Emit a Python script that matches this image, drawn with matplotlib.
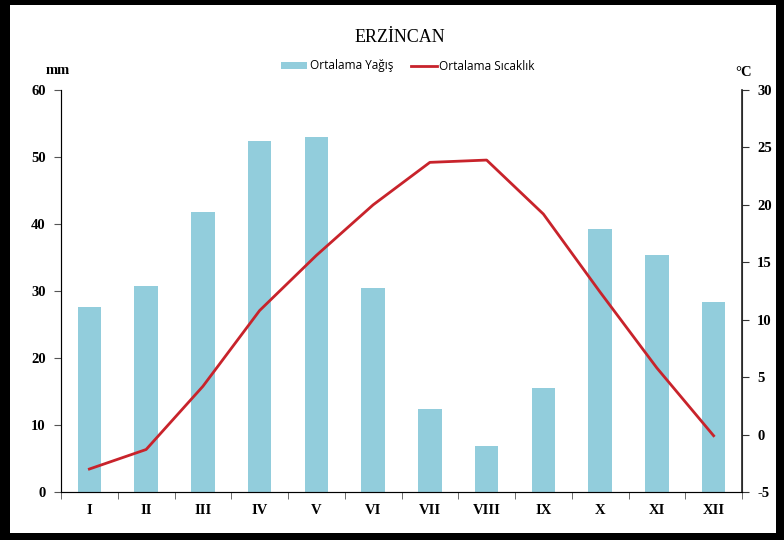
import numpy as np
import matplotlib
matplotlib.use('Agg')
from matplotlib import pyplot as plt
from matplotlib.patches import Rectangle

plt.rcParams['axes.unicode_minus'] = False

aylar = ['I','II','III','IV','V','VI','VII','VIII','IX','X','XI','XII']
yagis = [27.6, 30.7, 41.8, 52.4, 53.0, 30.4, 12.4, 6.9, 15.5, 39.3, 35.4, 28.4]   # mm
sicaklik = [-3.0, -1.3, 4.2, 10.8, 15.6, 20.0, 23.7, 23.9, 19.2, 12.4, 5.8, -0.1]  # °C

mavi = '#92CDDC'
kirmizi = '#C8232B'
serif = 'Liberation Serif'

W, H = 784, 540
fig = plt.figure(figsize=(W/100, H/100), dpi=100)
ax = fig.add_axes([61/W, 1-492/H, 681/W, 402/H])
x = np.arange(len(aylar))
b = ax.bar(x, yagis, width=0.41, color=mavi, label='Ortalama Yağış', zorder=2)
ax.set_xlim(-0.5, 11.5)
ax.set_ylim(0, 60)
ax.set_yticks(range(0, 61, 10))
ax.set_xticks(x)
ax.set_xticklabels(aylar)
ax.set_xticks(np.arange(-0.5, 12, 1), minor=True)
ax.tick_params(axis='x', which='major', length=0, pad=9)
ax.tick_params(axis='x', which='minor', length=5, direction='out', color='#555555')
ax.tick_params(axis='y', length=5, direction='out', color='#555555', pad=6)
for lab in ax.get_xticklabels() + ax.get_yticklabels():
    lab.set_fontfamily(serif)
    lab.set_fontweight('bold')
    lab.set_fontsize(10.5)
ax.spines['top'].set_visible(False)
for s in ['left', 'bottom', 'right']:
    ax.spines[s].set_color('#555555')

ax2 = ax.twinx()
l, = ax2.plot(x, sicaklik, color=kirmizi, lw=2, label='Ortalama Sıcaklık', zorder=3)
ax2.set_ylim(-5, 30)
ax2.set_yticks(range(-5, 31, 5))
ax2.tick_params(axis='y', length=5, direction='out', color='#333333', pad=6)
for lab in ax2.get_yticklabels():
    lab.set_fontfamily(serif)
    lab.set_fontweight('bold')
    lab.set_fontsize(10.5)
ax2.spines['top'].set_visible(False)
ax2.spines['right'].set_color('#222222')
ax2.spines['right'].set_linewidth(1.2)

fig.text(400/W, 1-38/H, 'ERZİNCAN', ha='center', va='center', family=serif, fontsize=13)
fig.text(58/W, 1-70/H, 'mm', ha='center', va='center', family=serif, fontweight='bold', fontsize=10.5)
fig.text(744/W, 1-73/H, '°C', ha='center', va='center', family=serif, fontweight='bold', fontsize=10.5)

fig.legend([b, l], ['Ortalama Yağış', 'Ortalama Sıcaklık'], loc='center', bbox_to_anchor=(408/W, 1-66/H),
           ncol=2, frameon=False, prop={'family': 'Open Sans', 'size': 8.5}, handlelength=2.2,
           handleheight=0.5, columnspacing=1.5, handletextpad=0.2)

# kenarlık
for (x0, y0, w, h) in [(0, 0, 10, H), (0, 0, W, 7), (0, H-5, W, 5), (W-8, 0, 8, H)]:
    fig.patches.append(Rectangle((x0/W, y0/H), w/W, h/H, transform=fig.transFigure,
                                 facecolor='black', edgecolor='none'))

fig.savefig('out.png', dpi=100)
